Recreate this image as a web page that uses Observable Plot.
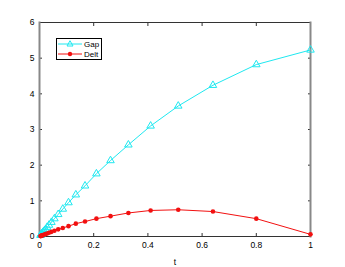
<!DOCTYPE html>
<html><head><meta charset="utf-8">
<script src="https://cdn.jsdelivr.net/npm/d3@7"></script>
<script src="https://cdn.jsdelivr.net/npm/@observablehq/plot@0.6"></script>
<style>
body{margin:0;background:#fff;}
#wrap{position:relative;width:345px;height:267px;}
#legend{position:absolute;left:56px;top:38px;}
</style>
</head><body><div id="wrap"></div>
<script>
const tVals = [1, 0.8, 0.64, 0.512, 0.41, 0.328, 0.262, 0.21, 0.168, 0.134, 0.107, 0.086, 0.069, 0.055, 0.044, 0.035, 0.028, 0.0225, 0.018, 0.0144, 0.0115, 0.0092, 0.0074, 0.0059, 0.0047, 0.0038];
const gapVals = [5.23, 4.82, 4.24, 3.66, 3.10, 2.57, 2.13, 1.76, 1.42, 1.17, 0.95, 0.77, 0.62, 0.50, 0.40, 0.32, 0.26, 0.20, 0.16, 0.13, 0.105, 0.084, 0.067, 0.054, 0.043, 0.034];
const deltVals = [0.06, 0.50, 0.70, 0.75, 0.73, 0.66, 0.57, 0.50, 0.42, 0.36, 0.29, 0.24, 0.20, 0.16, 0.13, 0.105, 0.085, 0.068, 0.055, 0.044, 0.035, 0.028, 0.022, 0.018, 0.014, 0.011];
const xTicks = [0, 0.2, 0.4, 0.6, 0.8, 1];
const yTicks = [0, 1, 2, 3, 4, 5, 6];
const seriesNames = ["Gap", "Delt"];
const seriesColors = ["#1fe8f0", "#f21010"];

const gap = tVals.map((t, i) => ({t, v: gapVals[i]}));
const delt = tVals.map((t, i) => ({t, v: deltVals[i]}));

const font = "Liberation Sans, Arial, Helvetica, sans-serif";
const chart = Plot.plot({
  width: 345, height: 267,
  marginLeft: 39, marginRight: 35, marginTop: 22, marginBottom: 31,
  style: {fontFamily: font, fontSize: "8.5px", color: "#000", background: "#fff"},
  x: {domain: [0, 1], ticks: xTicks},
  y: {domain: [0, 6], ticks: yTicks},
  marks: [
    Plot.axisX({ticks: xTicks, tickSize: -3, tickPadding: 8, tickFormat: d => String(d), label: "t", labelAnchor: "center", labelOffset: 28, labelArrow: "none", stroke: "#333", fill: "#000"}),
    Plot.axisX({anchor: "top", ticks: xTicks, tickSize: -3, tickFormat: () => "", label: null, stroke: "#333"}),
    Plot.axisY({ticks: yTicks, tickSize: -3, tickPadding: 8, tickFormat: d => String(d), label: null, stroke: "#333", fill: "#000"}),
    Plot.axisY({anchor: "right", ticks: yTicks, tickSize: -3, tickFormat: () => "", label: null, stroke: "#333"}),
    Plot.frame({anchor: "top", stroke: "#333"}),
    Plot.frame({anchor: "bottom", stroke: "#333"}),
    Plot.frame({anchor: "left", stroke: "#888", strokeWidth: 2}),
    Plot.frame({anchor: "right", stroke: "#888", strokeWidth: 2}),
    Plot.line(gap, {x: "t", y: "v", stroke: seriesColors[0], strokeWidth: 1}),
    Plot.dot(gap, {x: "t", y: "v", symbol: "triangle", r: 2.8, stroke: seriesColors[0], fill: "none", strokeWidth: 1}),
    Plot.line(delt, {x: "t", y: "v", stroke: seriesColors[1], strokeWidth: 1}),
    Plot.dot(delt, {x: "t", y: "v", symbol: "circle", r: 2.3, fill: seriesColors[1], stroke: "none"})
  ]
});
const wrap = document.getElementById("wrap");
wrap.appendChild(chart);

// legend
const ns = "http://www.w3.org/2000/svg";
const lg = document.createElementNS(ns, "svg");
lg.setAttribute("id", "legend");
lg.setAttribute("width", 46); lg.setAttribute("height", 22);
let html = `<rect x="0.5" y="0.5" width="45" height="21" fill="#fff" stroke="#000" stroke-width="1"/>`;
seriesNames.forEach((name, i) => {
  const y = 6 + i * 10;
  html += `<line x1="2" x2="26" y1="${y}" y2="${y}" stroke="${seriesColors[i]}" stroke-width="1"/>`;
  if (i === 0) html += `<path d="M14,${y-3.3}L17,${y+2}L11,${y+2}Z" fill="none" stroke="${seriesColors[i]}"/>`;
  else html += `<circle cx="14" cy="${y}" r="2.2" fill="${seriesColors[i]}"/>`;
  html += `<text x="28" y="${y+2.8}" font-family="${font}" font-size="8" fill="#000">${name}</text>`;
});
lg.innerHTML = html;
wrap.appendChild(lg);
</script></body></html>
